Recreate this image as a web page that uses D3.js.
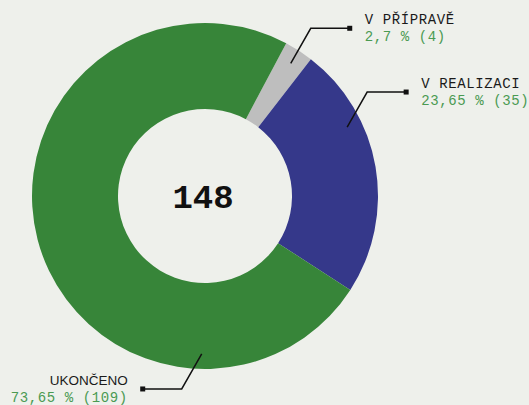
<!DOCTYPE html>
<meta charset="utf-8">
<style>
  body { margin: 0; background: #eef0eb; }
  .name { font: 14px "Liberation Mono", monospace; letter-spacing: 0.6px; fill: #1a1a1a; }
  .name--sans { font: 13.5px "Liberation Sans", sans-serif; letter-spacing: 0; }
  .pct { font: 14px "Liberation Mono", monospace; letter-spacing: 0.6px; fill: #4a9a52; }
  .total { font: bold 34px "Liberation Mono", monospace; fill: #111; }
  .leader { fill: none; stroke: #111; stroke-width: 1.5px; }
</style>
<svg width="529" height="405"></svg>
<script src="https://cdn.jsdelivr.net/npm/d3@7"></script>
<script>
  var categories = ["V PŘÍPRAVĚ", "V REALIZACI", "UKONČENO"]
  var counts = [4, 35, 109]
  var colors = ["#bebebe", "#35388a", "#378539"]

  // where along each slice the leader line starts (0 = start, 1 = end)
  var labelAt = [0.5, 0.31, 0.22]

  var svg = d3.select("svg"),
    cx = 205, cy = 196,
    outer = 173, inner = 87,
    g = svg.append("g").attr("transform", "translate(" + cx + "," + cy + ")")

  var total = d3.sum(counts)
  var fmt = d3.formatLocale({ decimal: ",", thousands: " ", grouping: [3], currency: ["", " Kč"] }).format(".2~f")

  var data = categories.map((c, i) => ({ name: c, value: counts[i], color: colors[i], at: labelAt[i] }))

  var pie = d3.pie()
    .sort(null)
    .value(d => d.value)
    .startAngle(28 * Math.PI / 180)
    .endAngle(28 * Math.PI / 180 + 2 * Math.PI)

  var arc = d3.arc().innerRadius(inner).outerRadius(outer)
  var arcs = pie(data)

  g.selectAll("path.slice")
    .data(arcs)
    .enter().append("path")
    .attr("class", "slice")
    .attr("d", arc)
    .attr("fill", d => d.data.color)

  g.append("text")
    .attr("class", "total")
    .attr("text-anchor", "middle")
    .attr("dy", "0.35em")
    .attr("x", -2)
    .text(total)

  var lab = g.selectAll("g.label")
    .data(arcs)
    .enter().append("g")
    .attr("class", "label")
    .each(function (d) {
      var a = d.startAngle + (d.endAngle - d.startAngle) * d.data.at
      var r = 158
      var p0 = [Math.sin(a) * r, -Math.cos(a) * r]
      var sx = Math.sin(a) >= 0 ? 1 : -1
      var sy = Math.cos(a) >= 0 ? -1 : 1
      var p1 = [p0[0] + sx * 20, p0[1] + sy * 35]
      var p2 = [p1[0] + sx * 39, p1[1]]
      var s = d3.select(this)
      s.append("path").attr("class", "leader").attr("d", d3.line()([p0, p1, p2]))
      s.append("rect").attr("x", p2[0] - 2.5).attr("y", p2[1] - 2.5).attr("width", 5).attr("height", 5).attr("fill", "#111")
      var tx = p2[0] + sx * 15
      var anchor = sx > 0 ? "start" : "end"
      s.append("text")
        .attr("class", d.data.name === "UKONČENO" ? "name name--sans" : "name")
        .attr("x", tx).attr("y", p2[1] - 4)
        .attr("text-anchor", anchor)
        .text(d.data.name)
      s.append("text")
        .attr("class", "pct")
        .attr("x", tx).attr("y", p2[1] + 13)
        .attr("text-anchor", anchor)
        .text(fmt(d.data.value / total * 100) + " % (" + d.data.value + ")")
    })
</script>
